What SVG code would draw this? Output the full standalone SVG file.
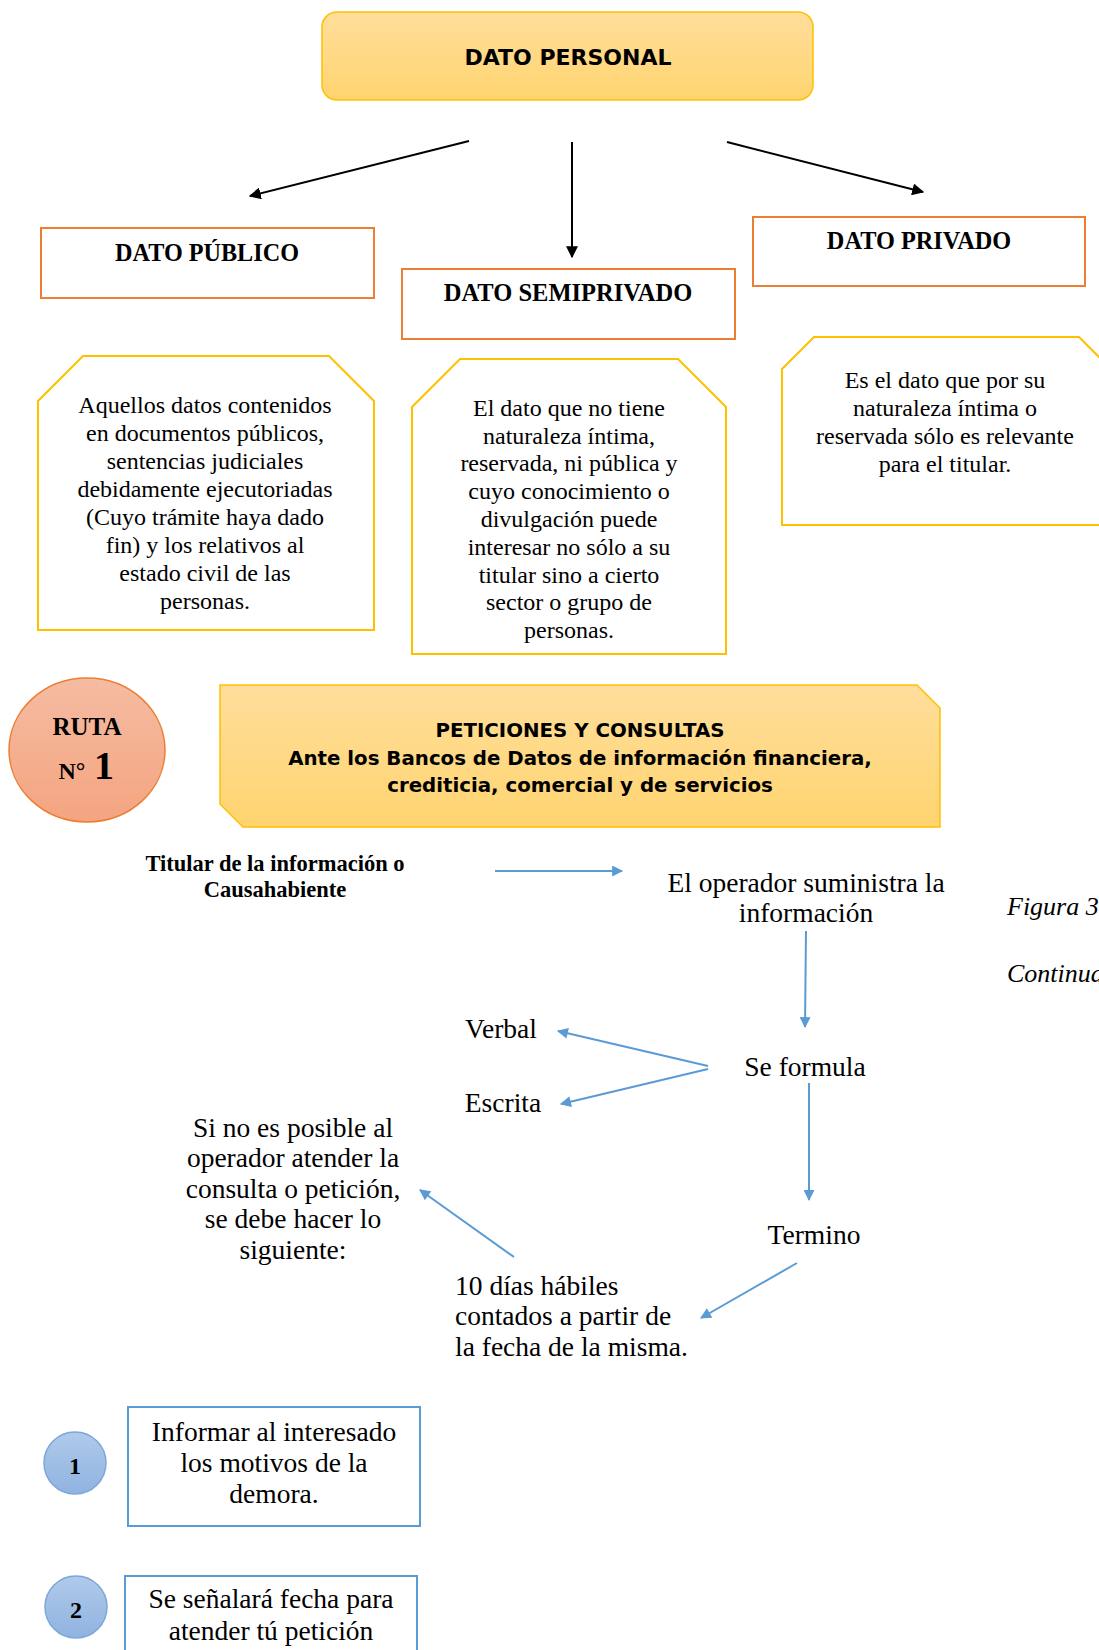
<svg xmlns="http://www.w3.org/2000/svg" width="1099" height="1650" viewBox="0 0 1099 1650">
<defs>
<linearGradient id="gGold" x1="0" y1="0" x2="0" y2="1"><stop offset="0" stop-color="#FFDE9C"/><stop offset="1" stop-color="#FFD46F"/></linearGradient>
<linearGradient id="gSalmon" x1="0" y1="0" x2="0" y2="1"><stop offset="0" stop-color="#F5BCA2"/><stop offset="1" stop-color="#F4A480"/></linearGradient>
<linearGradient id="gBlue" x1="0" y1="0" x2="0" y2="1"><stop offset="0" stop-color="#B0CAEA"/><stop offset="1" stop-color="#8FB3E0"/></linearGradient>
<marker id="mBlk" viewBox="0 0 10 10" refX="9" refY="5" markerWidth="12" markerHeight="12" orient="auto" markerUnits="userSpaceOnUse"><path d="M0,0 L10,5 L0,10 z" fill="#000"/></marker>
<marker id="mBlue" viewBox="0 0 10 10" refX="9" refY="5" markerWidth="12" markerHeight="11" orient="auto" markerUnits="userSpaceOnUse"><path d="M0,0 L10,5 L0,10 z" fill="#5B9BD5"/></marker>
</defs>
<style>
.hdr{font-family:"DejaVu Sans",Verdana,sans-serif;font-weight:bold;fill:#000;text-anchor:middle}
.tb{font-family:"Liberation Serif","Times New Roman",serif;font-weight:bold;fill:#000;text-anchor:middle}
.tr{font-family:"Liberation Serif","Times New Roman",serif;fill:#000;text-anchor:middle;font-size:24px}
.cm{font-family:"Liberation Serif","Times New Roman",serif;fill:#000;font-size:27.5px}
.mid{text-anchor:middle}
.obox{fill:#fff;stroke:#ED7D31;stroke-width:2}
.gbox{fill:#fff;stroke:#FFC000;stroke-width:2}
.bbox{fill:#fff;stroke:#5B9BD5;stroke-width:2}
.kline{stroke:#000;stroke-width:2;fill:none;marker-end:url(#mBlk)}
.bline{stroke:#5B9BD5;stroke-width:2;fill:none;marker-end:url(#mBlue)}
.it{font-family:"Liberation Serif","Times New Roman",serif;font-style:italic;font-size:26px;fill:#000}
</style>

<g id="dato-personal">
<rect x="322" y="12" width="491" height="88" rx="15" fill="url(#gGold)" stroke="#FFC000" stroke-width="1.5"/>
<text class="hdr" x="568" y="65" font-size="22">DATO PERSONAL</text>
</g>

<g id="connectors">
<line class="kline" x1="469" y1="141" x2="250" y2="196"/>
<line class="kline" x1="572" y1="142" x2="572" y2="257"/>
<line class="kline" x1="727" y1="142" x2="923" y2="192"/>
<line class="bline" x1="495" y1="871" x2="622" y2="871"/>
<line class="bline" x1="806" y1="931" x2="805" y2="1027"/>
<line class="bline" x1="708" y1="1066" x2="558" y2="1031"/>
<line class="bline" x1="708" y1="1069" x2="561" y2="1104"/>
<line class="bline" x1="809" y1="1083" x2="809" y2="1200"/>
<line class="bline" x1="797" y1="1263" x2="701" y2="1318"/>
<line class="bline" x1="514" y1="1257" x2="420" y2="1190"/>
</g>

<g id="dato-publico">
<rect class="obox" x="41" y="228" width="333" height="70"/>
<text class="tb" x="207" y="261" font-size="24.2">DATO PÚBLICO</text>
</g>
<g id="dato-semiprivado">
<rect class="obox" x="402" y="269" width="333" height="70"/>
<text class="tb" x="568" y="301" font-size="24.5">DATO SEMIPRIVADO</text>
</g>
<g id="dato-privado">
<rect class="obox" x="753" y="217" width="332" height="69"/>
<text class="tb" x="919" y="249" font-size="24.3">DATO PRIVADO</text>
</g>

<g id="desc-publico">
<polygon class="gbox" points="83,356 329,356 374,401 374,630 38,630 38,401"/>
<text class="tr" x="205" y="413">Aquellos datos contenidos</text>
<text class="tr" x="205" y="441">en documentos públicos,</text>
<text class="tr" x="205" y="469">sentencias judiciales</text>
<text class="tr" x="205" y="497">debidamente ejecutoriadas</text>
<text class="tr" x="205" y="525">(Cuyo trámite haya dado</text>
<text class="tr" x="205" y="553">fin) y los relativos al</text>
<text class="tr" x="205" y="581">estado civil de las</text>
<text class="tr" x="205" y="609">personas.</text>
</g>

<g id="desc-semiprivado">
<polygon class="gbox" points="460,359 678,359 726,407 726,654 412,654 412,407"/>
<text class="tr" x="569" y="416">El dato que no tiene</text>
<text class="tr" x="569" y="444">naturaleza íntima,</text>
<text class="tr" x="569" y="471">reservada, ni pública y</text>
<text class="tr" x="569" y="499">cuyo conocimiento o</text>
<text class="tr" x="569" y="527">divulgación puede</text>
<text class="tr" x="569" y="555">interesar no sólo a su</text>
<text class="tr" x="569" y="583">titular sino a cierto</text>
<text class="tr" x="569" y="610">sector o grupo de</text>
<text class="tr" x="569" y="638">personas.</text>
</g>

<g id="desc-privado">
<polygon class="gbox" points="814,337 1079,337 1112,370 1112,525 782,525 782,369"/>
<text class="tr" x="945" y="388">Es el dato que por su</text>
<text class="tr" x="945" y="416">naturaleza íntima o</text>
<text class="tr" x="945" y="444">reservada sólo es relevante</text>
<text class="tr" x="945" y="472">para el titular.</text>
</g>

<g id="ruta">
<ellipse cx="87" cy="750" rx="78" ry="72" fill="url(#gSalmon)" stroke="#ED7D31" stroke-width="1.5"/>
<text class="tb" x="87" y="735" font-size="25">RUTA</text>
<text class="tb" x="72" y="779" font-size="24">N°</text>
<text class="tb" x="104" y="779" font-size="40">1</text>
</g>

<g id="peticiones">
<polygon points="220,685 917,685 940,708 940,827 243,827 220,804" fill="url(#gGold)" stroke="#FFC000" stroke-width="1.5"/>
<text class="hdr" x="580" y="737" font-size="19.8">PETICIONES Y CONSULTAS</text>
<text class="hdr" x="580" y="765" font-size="19.8">Ante los Bancos de Datos de información financiera,</text>
<text class="hdr" x="580" y="792" font-size="19.8">crediticia, comercial y de servicios</text>
</g>

<g id="titular">
<text class="tb" x="275" y="871" font-size="22.5">Titular de la información o</text>
<text class="tb" x="275" y="897" font-size="22.5">Causahabiente</text>
</g>

<g id="operador">
<text class="cm mid" x="806" y="892">El operador suministra la</text>
<text class="cm mid" x="806" y="922">información</text>
</g>

<g id="figura">
<text class="it" x="1007" y="915">Figura 3.</text>
<text class="it" x="1007" y="982">Continuación</text>
</g>

<g id="verbal"><text class="cm mid" x="501" y="1038">Verbal</text></g>
<g id="escrita"><text class="cm mid" x="503" y="1112">Escrita</text></g>
<g id="se-formula"><text class="cm mid" x="805" y="1076">Se formula</text></g>
<g id="termino"><text class="cm mid" x="814" y="1244">Termino</text></g>

<g id="diez-dias">
<text class="cm" x="455" y="1295">10 días hábiles</text>
<text class="cm" x="455" y="1325">contados a partir de</text>
<text class="cm" x="455" y="1356">la fecha de la misma.</text>
</g>

<g id="si-no-es-posible">
<text class="cm mid" x="293" y="1137">Si no es posible al</text>
<text class="cm mid" x="293" y="1167">operador atender la</text>
<text class="cm mid" x="293" y="1198">consulta o petición,</text>
<text class="cm mid" x="293" y="1228">se debe hacer lo</text>
<text class="cm mid" x="293" y="1259">siguiente:</text>
</g>

<g id="paso-1">
<circle cx="75" cy="1463" r="31" fill="url(#gBlue)" stroke="#7BA7DA" stroke-width="1.5"/>
<text class="tb" x="75" y="1474" font-size="24">1</text>
<rect class="bbox" x="128" y="1407" width="292" height="119"/>
<text class="cm mid" x="274" y="1441">Informar al interesado</text>
<text class="cm mid" x="274" y="1472">los motivos de la</text>
<text class="cm mid" x="274" y="1503">demora.</text>
</g>

<g id="paso-2">
<circle cx="76" cy="1607" r="31" fill="url(#gBlue)" stroke="#7BA7DA" stroke-width="1.5"/>
<text class="tb" x="76" y="1618" font-size="24">2</text>
<rect class="bbox" x="125" y="1576" width="292" height="100"/>
<text class="cm mid" x="271" y="1608">Se señalará fecha para</text>
<text class="cm mid" x="271" y="1640">atender tú petición</text>
</g>
</svg>
